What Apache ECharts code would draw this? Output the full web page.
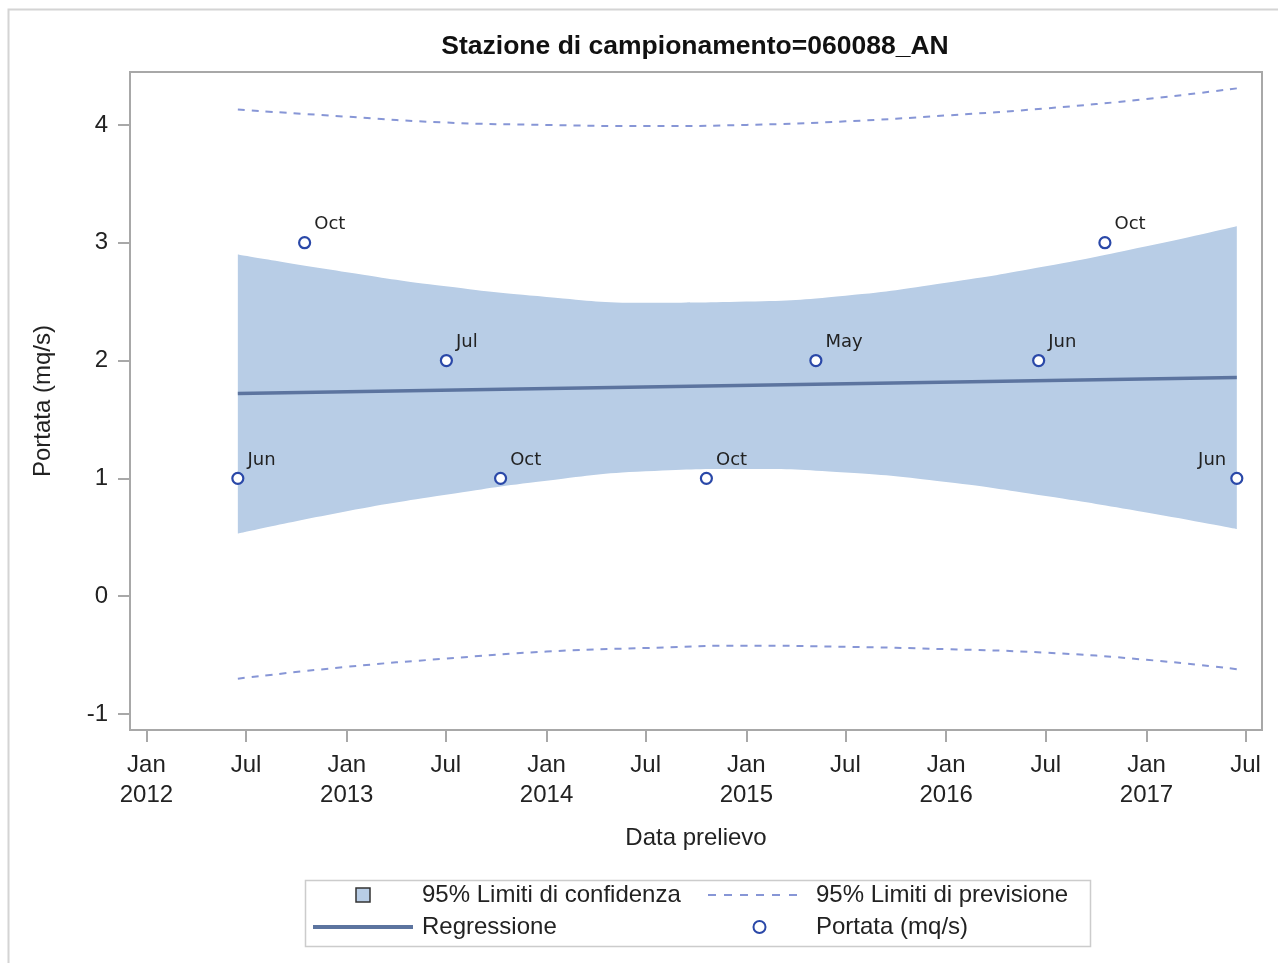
<!DOCTYPE html>
<html>
<head>
<meta charset="utf-8">
<script src="https://cdn.jsdelivr.net/npm/echarts@6/dist/echarts.min.js"></script>
<style>
  html, body { margin: 0; padding: 0; background: #fff; }
  #chart { width: 1278px; height: 963px; }
</style>
</head>
<body>
<div id="chart"></div>
<script>
// punti osservati
var pointDates = ["2012-06-16", "2012-10-16", "2013-07-02", "2013-10-09", "2014-10-20", "2015-05-08", "2016-06-18", "2016-10-17", "2017-06-15"];
var portata = [1, 3, 2, 1, 1, 2, 2, 3, 1];
var pointLabels = ["Jun", "Oct", "Jul", "Oct", "Oct", "May", "Jun", "Oct", "Jun"];

// bande
var bandDates = ["2012-06-16", "2013-01-01", "2013-07-01", "2014-01-01", "2014-07-01", "2015-01-01", "2015-07-01", "2016-01-01", "2016-07-01", "2017-01-01", "2017-06-15"];
var clUpper = [2.90, 2.75, 2.63, 2.54, 2.49, 2.50, 2.55, 2.66, 2.80, 2.97, 3.14];
var clLower = [0.53, 0.72, 0.86, 0.98, 1.06, 1.08, 1.05, 0.97, 0.85, 0.71, 0.57];
var plUpper = [4.13, 4.07, 4.02, 4.00, 3.99, 4.00, 4.03, 4.08, 4.14, 4.22, 4.31];
var plLower = [-0.70, -0.60, -0.53, -0.47, -0.44, -0.42, -0.43, -0.45, -0.48, -0.54, -0.62];

// retta di regressione
var regDates = ["2012-06-16", "2017-06-15"];
var regValues = [1.72, 1.855];

var xTickDates = ["2012-01-01", "2012-07-01", "2013-01-01", "2013-07-01", "2014-01-01", "2014-07-01",
                  "2015-01-01", "2015-07-01", "2016-01-01", "2016-07-01", "2017-01-01", "2017-07-01"];
var yTicks = [-1, 0, 1, 2, 3, 4];

var FONT = "Liberation Sans, Arial, sans-serif";
var TXT = "#222";
var AXIS = "#a8a8a8";

function ts(s) {
  var p = s.split("-").map(Number);
  return Date.UTC(p[0], p[1] - 1, p[2]);
}
function pairs(dates, vals) {
  return dates.map(function (d, i) { return [ts(d), vals[i]]; });
}

var clDiff = clUpper.map(function (v, i) { return v - clLower[i]; });
var xTicks = xTickDates.map(ts);
var xMin = ts("2011-12-02");
var xMax = ts("2017-07-31");

var chart = echarts.init(document.getElementById("chart"));
var option = {
  animation: false,
  backgroundColor: "#fff",
  textStyle: { fontFamily: FONT },
  title: {
    text: "Stazione di campionamento=060088_AN",
    left: 690,
    textAlign: "center",
    top: 28,
    textStyle: { fontFamily: FONT, fontWeight: "bold", fontSize: 26.5, color: "#111" }
  },
  graphic: [
    {
      type: "rect", left: 6, top: 7, silent: true,
      shape: { width: 1400, height: 1100 },
      style: { fill: null, stroke: "#d4d4d4", lineWidth: 2 }
    },
    {
      type: "rect", left: 303, top: 878, silent: true,
      shape: { width: 785, height: 66 },
      style: { fill: null, stroke: "#cccccc", lineWidth: 1.5 }
    }
  ],
  grid: {
    left: 130, right: 16, top: 72, bottom: 233,
    outerBoundsMode: "none",
    show: true, borderColor: AXIS, borderWidth: 2, backgroundColor: "#fff"
  },
  xAxis: [
    {
      // asse dei dati (tempo)
      type: "time",
      min: xMin, max: xMax,
      position: "bottom",
      axisLine: { show: true, onZero: false, lineStyle: { color: AXIS, width: 2 } },
      axisTick: { show: false },
      axisLabel: { show: false },
      splitLine: { show: false }
    },
    {
      // asse delle etichette (gen / lug)
      type: "value",
      min: xMin, max: xMax,
      position: "bottom",
      name: "Data prelievo",
      nameLocation: "middle",
      nameGap: 96,
      nameTextStyle: { fontFamily: FONT, fontSize: 24, color: TXT },
      axisLine: { show: true, onZero: false, lineStyle: { color: AXIS, width: 2 } },
      axisTick: { show: true, length: 12, lineStyle: { color: AXIS, width: 2 }, customValues: xTicks },
      axisLabel: {
        customValues: xTicks,
        margin: 20,
        fontFamily: FONT, fontSize: 24, color: TXT, lineHeight: 30,
        formatter: function (v) {
          var d = new Date(v);
          return d.getUTCMonth() === 0 ? "Jan\n" + d.getUTCFullYear() : "Jul";
        }
      },
      splitLine: { show: false }
    }
  ],
  yAxis: {
    type: "value",
    min: -1.136, max: 4.449,
    name: "Portata (mq/s)",
    nameLocation: "middle",
    nameGap: 75,
    nameTextStyle: { fontFamily: FONT, fontSize: 24, color: TXT },
    axisLine: { show: true, onZero: false, lineStyle: { color: AXIS, width: 2 } },
    axisTick: { show: true, length: 12, lineStyle: { color: AXIS, width: 2 }, customValues: yTicks },
    axisLabel: { customValues: yTicks, margin: 22, fontFamily: FONT, fontSize: 24, color: TXT },
    splitLine: { show: false }
  },
  legend: [
    {
      orient: "vertical", left: 313, top: 882, padding: 0,
      itemWidth: 100, itemHeight: 14, itemGap: 6,
      selectedMode: false,
      textStyle: { fontFamily: FONT, fontSize: 24, color: TXT, lineHeight: 26, padding: [0, 0, 0, 4] },
      data: [
        { name: "95% Limiti di confidenza", icon: "path://M0,0H10V10H0Z",
          itemStyle: { color: "#b8cde6", borderColor: "#333", borderWidth: 1.5 } },
        { name: "Regressione", icon: "path://M0,0H100V4H0Z",
          itemStyle: { color: "#5c749f" } }
      ]
    },
    {
      orient: "vertical", left: 708, top: 882, padding: 0,
      itemWidth: 103, itemHeight: 12, itemGap: 6,
      selectedMode: false,
      textStyle: { fontFamily: FONT, fontSize: 24, color: TXT, lineHeight: 26 },
      data: [
        { name: "95% Limiti di previsione",
          icon: "path://M0,0h8v2h-8z M16,0h8v2h-8z M32,0h8v2h-8z M48,0h8v2h-8z M64,0h8v2h-8z M81,0h8v2h-8z M103,0h0v2h0z",
          itemStyle: { color: "#8796d6" } },
        { name: "Portata (mq/s)", icon: "circle",
          itemStyle: { color: "#fff", borderColor: "#2a48a8", borderWidth: 2 } }
      ]
    }
  ],
  series: [
    {
      name: "cl-base", type: "line", stack: "cl", smooth: true, symbol: "none",
      data: pairs(bandDates, clLower),
      lineStyle: { opacity: 0 }, silent: true
    },
    {
      name: "95% Limiti di confidenza", type: "line", stack: "cl", smooth: true, symbol: "none",
      data: pairs(bandDates, clDiff),
      lineStyle: { opacity: 0 },
      areaStyle: { color: "#b8cde6", opacity: 1 },
      itemStyle: { color: "#b8cde6" }
    },
    {
      name: "95% Limiti di previsione", type: "line", smooth: true, symbol: "none",
      data: pairs(bandDates, plUpper),
      lineStyle: { color: "#8796d6", width: 2, type: [7, 7] },
      itemStyle: { color: "#8796d6" }
    },
    {
      name: "95% Limiti di previsione", type: "line", smooth: true, symbol: "none",
      data: pairs(bandDates, plLower),
      lineStyle: { color: "#8796d6", width: 2, type: [7, 7] },
      itemStyle: { color: "#8796d6" }
    },
    {
      name: "Regressione", type: "line", symbol: "none",
      data: pairs(regDates, regValues),
      lineStyle: { color: "#5c749f", width: 3.5 },
      itemStyle: { color: "#5c749f" }
    },
    {
      name: "Portata (mq/s)", type: "scatter",
      symbol: "circle", symbolSize: 11,
      itemStyle: { color: "#fff", borderColor: "#2a48a8", borderWidth: 2.2, opacity: 1 },
      data: pointDates.map(function (d, i) {
        var item = { value: [ts(d), portata[i]], label: { formatter: pointLabels[i] } };
        if (i === pointDates.length - 1) {
          item.label.position = "left";
          item.label.distance = 4;
        }
        return item;
      }),
      label: {
        show: true, position: "right", distance: 3, offset: [0, -18],
        fontFamily: "DejaVu Sans, sans-serif", fontSize: 18, color: "#222"
      },
      z: 5
    }
  ]
};
chart.setOption(option);
</script>
</body>
</html>
